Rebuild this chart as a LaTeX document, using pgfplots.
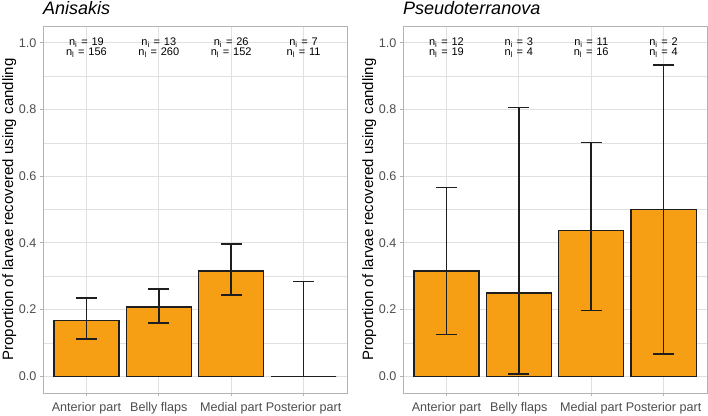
\documentclass[border=0pt]{standalone}
\usepackage{pgfplots}
\pgfplotsset{compat=1.18}
\usepackage{fontspec}
\setmainfont{Liberation Sans}

\definecolor{barfill}{RGB}{246,158,20}
\definecolor{gridc}{RGB}{224,224,224}
\definecolor{borderc}{RGB}{179,179,179}
\definecolor{tickc}{RGB}{77,77,77}
\definecolor{edge}{RGB}{30,30,30}

\tikzset{nlab/.style={font=\fontsize{11}{11}\selectfont, anchor=base, inner sep=0pt}}
\newcommand{\nfish}[1]{n\textsubscript{i}\hspace{0.35em}=\hspace{0.35em}#1}
\newcommand{\nlarv}[1]{n\textsubscript{l}\hspace{0.35em}=\hspace{0.35em}#1}

\pgfplotsset{
  panel/.style={
    width=304pt, height=367pt, scale only axis,
    xmin=-0.6, xmax=3.6, ymin=-0.05, ymax=1.05,
    xtick={0,1,2,3},
    xticklabels={Anterior part, Belly flaps, Medial part, Posterior part},
    ytick={0,0.2,0.4,0.6,0.8,1.0},
    minor ytick={0.1,0.3,0.5,0.7,0.9},
    grid=both,
    major grid style={gridc, line width=0.8pt},
    minor grid style={gridc, line width=0.5pt},
    axis line style={borderc, line width=0.9pt},
    tick style={borderc, line width=0.8pt},
    major tick length=3pt, minor tick length=0pt,
    tick align=outside, tick pos=left,
    ticklabel style={font=\fontsize{12.6}{12.6}\selectfont, text=tickc},
    xticklabel style={inner sep=0pt, yshift=-6pt},
    yticklabel style={/pgf/number format/.cd, fixed, fixed zerofill, precision=1, assume math mode=true},
    ylabel={Proportion of larvae recovered using candling},
    ylabel style={at={(axis description cs:-0.135,0.5)}, anchor=north, inner sep=0pt,
      font=\fontsize{15}{15}\selectfont},
    title style={at={(axis description cs:0,1)}, anchor=base west, yshift=5pt, inner sep=0pt,
      font=\fontsize{18}{18}\selectfont\itshape},
  },
  bars/.style={
    ybar, bar width=0.9, fill=barfill, draw=edge, line width=1.3pt,
    error bars/.cd, y dir=both, y explicit,
    error bar style={line width=1.6pt, edge},
    error mark options={rotate=90, mark size=10.5pt, line width=1.5pt, edge},
  },
}

\begin{document}
\begin{tikzpicture}
\useasboundingbox (-43pt,-22pt) rectangle (665pt,393pt);
\begin{axis}[panel, title={Anisakis}]
\addplot[bars] coordinates {
  (0,0.1667) += (0,0.0676) -= (0,0.0547)
  (1,0.2077) += (0,0.0543) -= (0,0.0477)
  (2,0.3158) += (0,0.0804) -= (0,0.0722)
  (3,0.0000) += (0,0.2849) -= (0,0.0000)
};
\node[nlab] at (axis cs:0,0.991) {\nfish{19}};
\node[nlab] at (axis cs:0,0.961) {\nlarv{156}};
\node[nlab] at (axis cs:1,0.991) {\nfish{13}};
\node[nlab] at (axis cs:1,0.961) {\nlarv{260}};
\node[nlab] at (axis cs:2,0.991) {\nfish{26}};
\node[nlab] at (axis cs:2,0.961) {\nlarv{152}};
\node[nlab] at (axis cs:3,0.991) {\nfish{7}};
\node[nlab] at (axis cs:3,0.961) {\nlarv{11}};
\end{axis}
\begin{axis}[panel, title={Pseudoterranova}, at={(360pt,0)}]
\addplot[bars] coordinates {
  (0,0.3158) += (0,0.2497) -= (0,0.1900)
  (1,0.2500) += (0,0.5559) -= (0,0.2437)
  (2,0.4375) += (0,0.2637) -= (0,0.2400)
  (3,0.5000) += (0,0.4324) -= (0,0.4324)
};
\node[nlab] at (axis cs:0,0.991) {\nfish{12}};
\node[nlab] at (axis cs:0,0.961) {\nlarv{19}};
\node[nlab] at (axis cs:1,0.991) {\nfish{3}};
\node[nlab] at (axis cs:1,0.961) {\nlarv{4}};
\node[nlab] at (axis cs:2,0.991) {\nfish{11}};
\node[nlab] at (axis cs:2,0.961) {\nlarv{16}};
\node[nlab] at (axis cs:3,0.991) {\nfish{2}};
\node[nlab] at (axis cs:3,0.961) {\nlarv{4}};
\end{axis}
\end{tikzpicture}
\end{document}
